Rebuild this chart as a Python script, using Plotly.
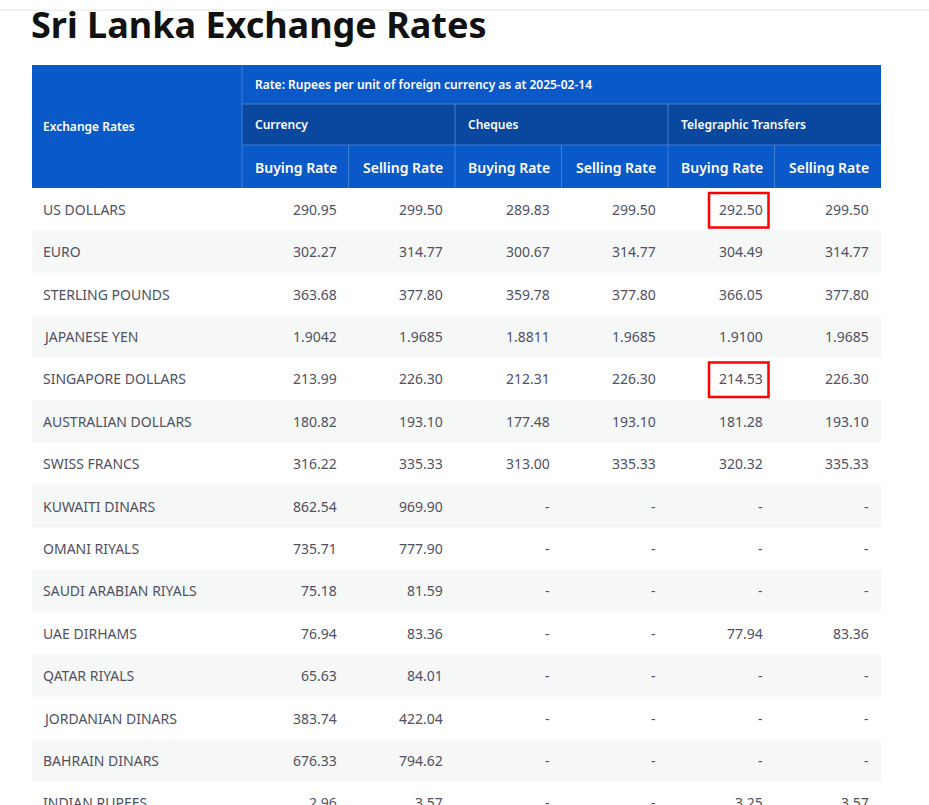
import plotly.graph_objects as go

# ---------------- data ----------------
title_text = "Sri Lanka Exchange Rates"
rate_note = "Rate: Rupees per unit of foreign currency as at 2025-02-14"
corner_label = "Exchange Rates"
groups = ["Currency", "Cheques", "Telegraphic Transfers"]
sub_labels = ["Buying Rate", "Selling Rate"]

currencies = [
    "US DOLLARS", "EURO", "STERLING POUNDS", "JAPANESE YEN", "SINGAPORE DOLLARS",
    "AUSTRALIAN DOLLARS", "SWISS FRANCS", "KUWAITI DINARS", "OMANI RIYALS",
    "SAUDI ARABIAN RIYALS", "UAE DIRHAMS", "QATAR RIYALS", "JORDANIAN DINARS",
    "BAHRAIN DINARS", "INDIAN RUPEES",
]
currency_buy = ["290.95", "302.27", "363.68", "1.9042", "213.99", "180.82", "316.22",
                "862.54", "735.71", "75.18", "76.94", "65.63", "383.74", "676.33", "2.96"]
currency_sell = ["299.50", "314.77", "377.80", "1.9685", "226.30", "193.10", "335.33",
                 "969.90", "777.90", "81.59", "83.36", "84.01", "422.04", "794.62", "3.57"]
cheque_buy = ["289.83", "300.67", "359.78", "1.8811", "212.31", "177.48", "313.00",
              "-", "-", "-", "-", "-", "-", "-", "-"]
cheque_sell = ["299.50", "314.77", "377.80", "1.9685", "226.30", "193.10", "335.33",
               "-", "-", "-", "-", "-", "-", "-", "-"]
tt_buy = ["292.50", "304.49", "366.05", "1.9100", "214.53", "181.28", "320.32",
          "-", "-", "-", "77.94", "-", "-", "-", "3.25"]
tt_sell = ["299.50", "314.77", "377.80", "1.9685", "226.30", "193.10", "335.33",
           "-", "-", "-", "83.36", "-", "-", "-", "3.57"]
highlighted = [("US DOLLARS", 4), ("SINGAPORE DOLLARS", 4)]  # (row, value column index)

columns = [currency_buy, currency_sell, cheque_buy, cheque_sell, tt_buy, tt_sell]

# ---------------- geometry / style ----------------
W, H = 929, 805
X0, X1 = 32, 881
FIRST_W = 210
SUB_W = (X1 - X0 - FIRST_W) / 6
HY = [65, 104, 145, 188]
ROW_H = 42.4
BLUE = "#0a59c9"
DARK = "#0a479f"
LINE = "#3f7fd8"
STRIPE = "#f6f8f8"
TXT = "#50505f"
FONT = "Noto Sans"

shapes, ann = [], []

def rect(x0, y0, x1, y1, fill, line=None, width=0, layer="below"):
    shapes.append(dict(type="rect", xref="x", yref="y", x0=x0, y0=y0, x1=x1, y1=y1,
                       fillcolor=fill, line=dict(color=line or fill, width=width), layer=layer))

def seg(x0, y0, x1, y1, color, width=1):
    shapes.append(dict(type="line", xref="x", yref="y", x0=x0, y0=y0, x1=x1, y1=y1,
                       line=dict(color=color, width=width), layer="above"))

def text(x, y, s, anchor="left", size=14, color=TXT, weight="normal", family=FONT):
    ann.append(dict(x=x, y=y, xref="x", yref="y", text=s, showarrow=False,
                    xanchor=anchor, yanchor="middle",
                    font=dict(size=size, color=color, family=family, weight=weight)))

# top bar shadow
rect(0, 0, W, 10, "#ffffff")
seg(0, 10, W, 10, "#eeeeee", 1.5)

# title
text(X0 - 3, 24, title_text, size=36, color="#111111", weight="bold")

# header blocks
xs = [X0 + FIRST_W + i * SUB_W for i in range(7)]
rect(X0, HY[0], X1, HY[3], BLUE)
rect(xs[0], HY[1], X1, HY[2], DARK)
seg(xs[0], HY[0], xs[0], HY[3], LINE)
seg(xs[0], HY[1], X1, HY[1], LINE)
seg(xs[0], HY[2], X1, HY[2], LINE)
for i in (2, 4):
    seg(xs[i], HY[1], xs[i], HY[3], LINE)
for i in (1, 3, 5):
    seg(xs[i], HY[2], xs[i], HY[3], LINE)

text(X0 + 9, (HY[0] + HY[3]) / 2, corner_label, size=12, color="white", weight=600)
text(xs[0] + 11, (HY[0] + HY[1]) / 2, rate_note, size=12, color="white", weight=600)
for g, name in enumerate(groups):
    text(xs[2 * g] + 11, (HY[1] + HY[2]) / 2, name, size=12, color="white", weight=600)
for i in range(6):
    text(xs[i + 1] - 10, (HY[2] + HY[3]) / 2 + 1, sub_labels[i % 2], anchor="right",
         size=14, color="white", weight=600)

# body
for r, name in enumerate(currencies):
    top = HY[3] + r * ROW_H
    bot = top + ROW_H
    if r % 2 == 1:
        rect(X0, top, X1, bot, STRIPE)
    cy = (top + bot) / 2
    text(X0 + 9, cy, name, size=14)
    for c, col in enumerate(columns):
        text(xs[c + 1] - 10, cy, col[r], anchor="right", size=14)

# highlight boxes
for name, c in highlighted:
    r = currencies.index(name)
    top = HY[3] + r * ROW_H
    shapes.append(dict(type="rect", xref="x", yref="y",
                       x0=xs[c] + 41, x1=xs[c + 1] - 6, y0=top + 5, y1=top + ROW_H - 3,
                       line=dict(color="#ff0000", width=2.5), fillcolor="rgba(0,0,0,0)",
                       layer="above"))

fig = go.Figure()
fig.update_layout(
    width=W, height=H, margin=dict(l=0, r=0, t=0, b=0),
    paper_bgcolor="white", plot_bgcolor="white",
    xaxis=dict(range=[0, W], visible=False, fixedrange=True),
    yaxis=dict(range=[H, 0], visible=False, fixedrange=True),
    shapes=shapes, annotations=ann, showlegend=False,
)
fig.write_html("out.html", config={"displayModeBar": False},
               post_script="document.body.style.margin='0';document.body.style.overflow='hidden';")
